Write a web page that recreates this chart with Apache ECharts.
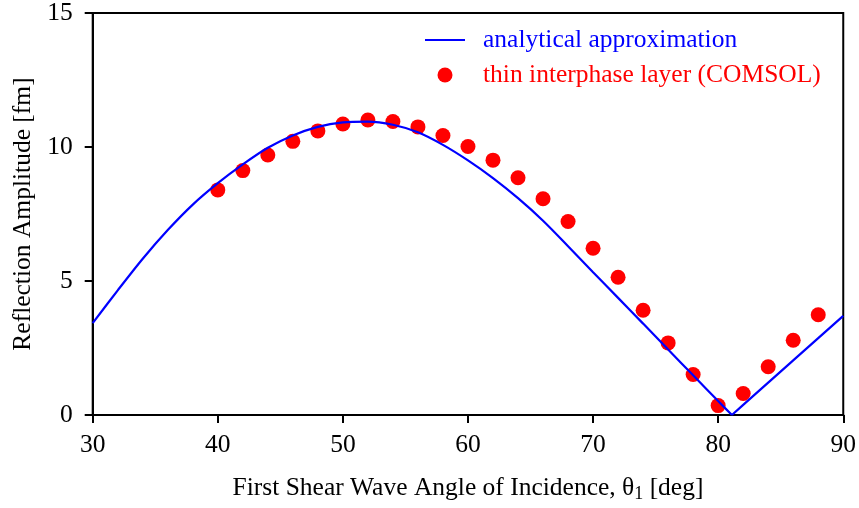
<!DOCTYPE html>
<html>
<head>
<meta charset="utf-8">
<script src="https://cdn.jsdelivr.net/npm/echarts@6/dist/echarts.min.js"></script>
<style>
html,body{margin:0;padding:0;background:#fff;}
#chart{width:859px;height:508px;}
</style>
</head>
<body>
<div id="chart"></div>
<script>
// Analytical approximation curve (angle in deg, amplitude in fm): falling branch up to the zero, then rising branch
var lineAnglesA = [30, 32, 34, 36, 38, 40, 42, 44, 46, 48, 50, 52, 54, 56, 58, 60, 62, 64, 66, 68, 70, 72, 74, 76, 78, 80, 81.1];
var lineValuesA = [3.43, 4.65, 5.83, 6.90, 7.85, 8.65, 9.35, 9.97, 10.43, 10.75, 10.92, 10.95, 10.83, 10.55, 10.08, 9.50, 8.84, 8.09, 7.25, 6.30, 5.33, 4.37, 3.41, 2.44, 1.48, 0.52, 0.0];
var lineAnglesB = [81.1, 82, 84, 86, 88, 90];
var lineValuesB = [0.0, 0.38, 1.21, 2.04, 2.87, 3.70];
// Thin interphase layer (COMSOL) points
var dotAngles = [40, 42, 44, 46, 48, 50, 52, 54, 56, 58, 60, 62, 64, 66, 68, 70, 72, 74, 76, 78, 80, 82, 84, 86, 88];
var dotValues = [8.40, 9.12, 9.70, 10.21, 10.60, 10.86, 11.01, 10.95, 10.75, 10.43, 10.02, 9.51, 8.85, 8.07, 7.22, 6.22, 5.14, 3.91, 2.69, 1.51, 0.35, 0.80, 1.80, 2.79, 3.74];
var xTicks = [30, 40, 50, 60, 70, 80, 90];
var yTicks = [0, 5, 10, 15];
var lineName = 'analytical approximation';
var dotName = 'thin interphase layer (COMSOL)';

var FONT = '"Liberation Serif", "DejaVu Serif", serif';
var FS = 25.5;
var chart = echarts.init(document.getElementById('chart'), null, {renderer: 'canvas'});

function zip(a, b) { return a.map(function (v, i) { return [v, b[i]]; }); }

chart.setOption({
  animation: false,
  backgroundColor: '#fff',
  grid: {left: 92.7, right: 15.7, top: 11, bottom: 92, show: true, borderColor: '#000', borderWidth: 2, backgroundColor: 'transparent'},
  legend: [{
    data: [{name: lineName, icon: 'rect'}],
    left: 425, top: 26, padding: 0, itemWidth: 40, itemHeight: 2,
    textStyle: {color: '#0000ff', fontFamily: FONT, fontSize: FS, lineHeight: 28, padding: [0, 0, 0, 13]},
    selectedMode: false
  }, {
    data: [{name: dotName, icon: 'circle'}],
    left: 437.5, top: 61, padding: 0, itemWidth: 15, itemHeight: 15,
    textStyle: {color: '#ff0000', fontFamily: FONT, fontSize: FS, lineHeight: 28, padding: [0, 0, 0, 25.5]},
    selectedMode: false
  }],
  xAxis: {
    type: 'value', min: xTicks[0], max: xTicks[xTicks.length - 1], interval: 10,
    name: '{a|First Shear Wave Angle of Incidence, θ}{s|1}{a| [deg]}',
    nameLocation: 'middle', nameGap: 58,
    nameTextStyle: {rich: {
      a: {fontFamily: FONT, fontSize: FS, color: '#000'},
      s: {fontFamily: FONT, fontSize: 18, color: '#000', padding: [12, 0, 0, 0]}
    }},
    axisLine: {show: true, lineStyle: {color: '#000', width: 2}},
    axisTick: {show: true, inside: false, length: 8, lineStyle: {color: '#000', width: 2}},
    axisLabel: {color: '#000', fontFamily: FONT, fontSize: FS, margin: 17},
    splitLine: {show: false}
  },
  yAxis: {
    type: 'value', min: yTicks[0], max: yTicks[yTicks.length - 1], interval: 5,
    name: 'Reflection Amplitude [fm]',
    nameLocation: 'middle', nameGap: 55,
    nameTextStyle: {fontFamily: FONT, fontSize: FS, color: '#000'},
    axisLine: {show: true, lineStyle: {color: '#000', width: 2}},
    axisTick: {show: true, inside: false, length: 8, lineStyle: {color: '#000', width: 2}},
    axisLabel: {color: '#000', fontFamily: FONT, fontSize: FS, margin: 20},
    splitLine: {show: false}
  },
  series: [{
    name: lineName, type: 'line', data: zip(lineAnglesA, lineValuesA),
    showSymbol: false, symbol: 'none', smooth: 0.3,
    lineStyle: {color: '#0000ff', width: 2.2}, itemStyle: {color: '#0000ff'}
  }, {
    name: lineName, type: 'line', data: zip(lineAnglesB, lineValuesB),
    showSymbol: false, symbol: 'none', smooth: false,
    lineStyle: {color: '#0000ff', width: 2.2}, itemStyle: {color: '#0000ff'}
  }, {
    name: dotName, type: 'scatter', data: zip(dotAngles, dotValues),
    symbol: 'circle', symbolSize: 15, itemStyle: {color: '#ff0000', opacity: 1}
  }]
});
</script>
</body>
</html>
